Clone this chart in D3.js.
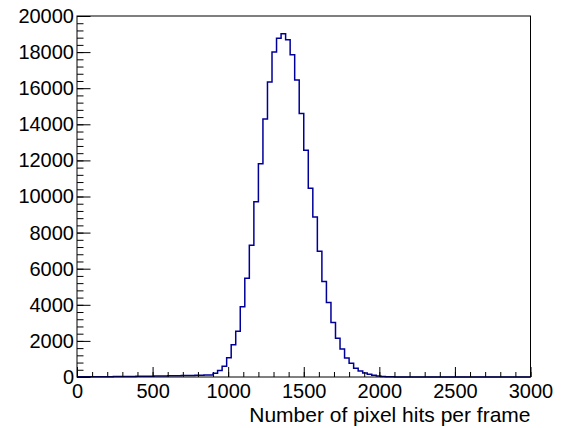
<!DOCTYPE html>
<html>
<head>
<meta charset="utf-8">
<script src="https://cdn.jsdelivr.net/npm/d3@7"></script>
<style>
  body { margin: 0; background: #fff; }
  svg { display: block; }
</style>
</head>
<body>
<script>
// 100 bins of width 30 from 0 to 3000
const binEdges = d3.range(0, 3000, 30);
const counts = [
  15, 8, 10, 12, 14, 16, 18, 20, 22, 25,
  28, 30, 33, 36, 40, 44, 48, 52, 56, 60,
  65, 70, 75, 80, 85, 90, 95, 100, 105, 110,
  210, 360, 600, 1060, 1790, 2530, 3890, 5470, 7300, 9710,
  11810, 14290, 16340, 18010, 18770, 19010, 18690, 17860, 16460, 14600,
  12560, 10460, 8860, 6960, 5290, 4130, 3020, 2140, 1550, 1050,
  755, 480, 330, 220, 147, 92, 55, 30, 18, 10,
  6, 3, 2, 1, 1, 0, 0, 0, 0, 0,
  0, 0, 0, 0, 0, 0, 0, 0, 0, 0,
  0, 0, 0, 0, 0, 0, 0, 0, 0, 0
];
const xMajor = [0, 500, 1000, 1500, 2000, 2500, 3000];
const xMinor = d3.range(0, 3001, 100);
const yMajor = [0, 2000, 4000, 6000, 8000, 10000, 12000, 14000, 16000, 18000, 20000];
const yMinor = d3.range(0, 20001, 400);
const xTitle = "Number of pixel hits per frame";

const width = 564;
const height = 428;
const frameL = 77, frameR = 530.5, frameT = 16, frameB = 377;
const font = "'Liberation Sans', Arial, Helvetica, sans-serif";

const x = d3.scaleLinear([0, 3000], [frameL, frameR]);
const y = d3.scaleLinear([0, 20000], [frameB, frameT]);

const svg = d3.create("svg")
    .attr("width", width)
    .attr("height", height)
    .attr("viewBox", [0, 0, width, height]);

svg.append("rect")
    .attr("width", width)
    .attr("height", height)
    .attr("fill", "#fff");

// histogram outline
const pts = binEdges.map((e, i) => [e, counts[i]]);
pts.push([3000, counts[counts.length - 1]]);

const line = d3.line()
    .curve(d3.curveStepAfter)
    .x(d => x(d[0]))
    .y(d => y(d[1]));

svg.append("path")
    .attr("d", line(pts))
    .attr("fill", "none")
    .attr("stroke", "#000099")
    .attr("stroke-width", 1.5);

// frame
svg.append("rect")
    .attr("x", frameL)
    .attr("y", frameT)
    .attr("width", frameR - frameL)
    .attr("height", frameB - frameT)
    .attr("fill", "none")
    .attr("stroke", "#000")
    .attr("stroke-width", 1);

// x axis: minor then major ticks, drawn inside the frame
svg.append("g")
    .attr("transform", `translate(0,${frameB})`)
    .call(d3.axisBottom(x).tickValues(xMinor).tickSize(-5).tickFormat(""))
    .call(g => g.select(".domain").remove());

svg.append("g")
    .attr("transform", `translate(0,${frameB})`)
    .call(d3.axisBottom(x).tickValues(xMajor).tickSize(-10).tickPadding(6.5).tickFormat(d3.format("d")))
    .call(g => g.select(".domain").remove())
    .call(g => g.selectAll("text")
        .attr("fill", "#000")
        .style("font-family", font)
        .style("font-size", "20px"));

// y axis
svg.append("g")
    .attr("transform", `translate(${frameL},0)`)
    .call(d3.axisLeft(y).tickValues(yMinor).tickSize(-6.5).tickFormat(""))
    .call(g => g.select(".domain").remove());

svg.append("g")
    .attr("transform", `translate(${frameL},0)`)
    .call(d3.axisLeft(y).tickValues(yMajor).tickSize(-13.5).tickPadding(3).tickFormat(d3.format("d")))
    .call(g => g.select(".domain").remove())
    .call(g => g.selectAll("text")
        .attr("fill", "#000")
        .style("font-family", font)
        .style("font-size", "20px"));

svg.selectAll(".tick line").attr("stroke", "#000");

// axis title
svg.append("text")
    .attr("x", frameR)
    .attr("y", 421.5)
    .attr("text-anchor", "end")
    .style("font-family", font)
    .style("font-size", "21px")
    .text(xTitle);

document.body.appendChild(svg.node());
</script>
</body>
</html>
